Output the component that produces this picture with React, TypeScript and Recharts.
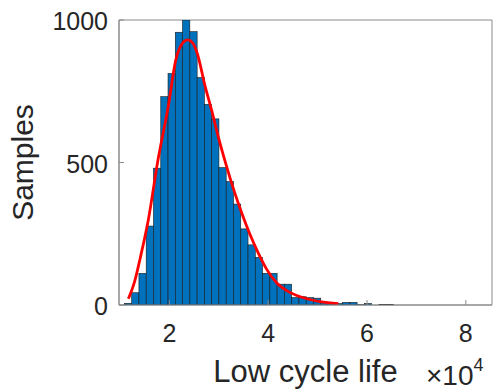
import { ComposedChart, Bar, Line, XAxis, YAxis, Label, ReferenceArea } from 'recharts';

// histogram, x in units of 1e4 cycles
const binCenters = [
  1.163, 1.31, 1.457, 1.604, 1.752, 1.899, 2.046, 2.193, 2.34, 2.488,
  2.635, 2.782, 2.929, 3.076, 3.224, 3.371, 3.518, 3.665, 3.812, 3.96,
  4.107, 4.254, 4.401, 4.548, 4.696, 4.843, 4.99, 5.137, 5.284, 5.432,
  5.579, 5.726, 5.873, 6.02, 6.168, 6.315, 6.462,
];
const binCounts = [
  6, 43, 111, 277, 480, 731, 812, 957, 1000, 959,
  798, 704, 653, 482, 433, 354, 267, 211, 167, 111,
  111, 73, 73, 26, 29, 26, 24, 10, 6, 5,
  9, 9, 1, 5, 0, 2, 2,
];
const binWidth = 0.1472;

// red fit curve
const fitX = [
  1.17, 1.3, 1.41, 1.575, 1.76, 1.98, 2.13, 2.25, 2.37, 2.47,
  2.56, 2.72, 2.86, 2.99, 3.16, 3.33, 3.47, 3.63, 3.8, 3.97,
  4.17, 4.41, 4.65, 5.05, 5.42,
];
const fitY = [
  22, 85, 165, 300, 500, 700, 860, 915, 930, 920,
  885, 770, 680, 590, 485, 390, 320, 248, 182, 125,
  78, 47, 29, 12, 5,
];

const xTicks = [2, 4, 6, 8];
const yTicks = [0, 500, 1000];
const xDomain = [0.98, 8.53];
const yDomain = [0, 1000];

const histData = binCenters.map((x, i) => ({ x, count: binCounts[i] }));
const fitData = fitX.map((x, i) => ({ x, fit: fitY[i] }));

const AXIS = '#8a8a8a';
const TEXT = '#262626';
const FONT = '"Liberation Sans", Arial, Helvetica, sans-serif';

const CHART_W = 493;
const PLOT_LEFT = 119;
const PLOT_RIGHT = 1;
// pixel width of one bin, from the x scale
const binPx = (binWidth / (xDomain[1] - xDomain[0])) * (CHART_W - PLOT_LEFT - PLOT_RIGHT);

const HistBar = ({ x, y, width, height }: any) => {
  if (!height || height <= 0) return null;
  const cx = x + width / 2;
  return (
    <rect
      x={cx - binPx / 2}
      y={y}
      width={binPx}
      height={height}
      fill="#0072BD"
      stroke="#1a1a1a"
      strokeWidth={0.6}
    />
  );
};

const BottomTick = ({ x, y, payload }: any) => (
  <g>
    <line x1={x} y1={y} x2={x} y2={y - 5} stroke={AXIS} />
    <text x={x} y={y + 37} textAnchor="middle" fontSize={25} fill={TEXT} fontFamily={FONT}>
      {payload.value}
    </text>
  </g>
);

const TopTick = ({ x, y }: any) => <line x1={x} y1={y} x2={x} y2={y + 5} stroke={AXIS} />;

const LeftTick = ({ x, y, payload }: any) => (
  <g>
    <line x1={x} y1={y} x2={x + 5} y2={y} stroke={AXIS} />
    <text x={x - 11} y={y + 10} textAnchor="end" fontSize={25} fill={TEXT} fontFamily={FONT}>
      {payload.value}
    </text>
  </g>
);

const RightTick = ({ x, y }: any) => <line x1={x} y1={y} x2={x - 5} y2={y} stroke={AXIS} />;

const XLabel = ({ viewBox }: any) => {
  const { x, y, width } = viewBox;
  return (
    <g fontFamily={FONT} fill={TEXT}>
      <text x={x + width / 2} y={y + 77} textAnchor="middle" fontSize={31}>
        Low cycle life
      </text>
      <text x={x + width - 66} y={y + 80} fontSize={28}>
        ×10
        <tspan dy={-14} fontSize={18}>4</tspan>
      </text>
    </g>
  );
};

const YLabel = ({ viewBox }: any) => {
  const cx = viewBox.x + 33;
  const cy = viewBox.y + viewBox.height / 2;
  return (
    <text
      x={cx}
      y={cy}
      transform={`rotate(-90 ${cx} ${cy})`}
      textAnchor="middle"
      fontSize={30}
      fill={TEXT}
      fontFamily={FONT}
    >
      Samples
    </text>
  );
};

export default function App() {
  return (
    <div style={{ position: 'absolute', left: 0, top: 0, background: '#fff' }}>
      <ComposedChart
        width={CHART_W}
        height={391}
        data={histData}
        margin={{ top: 20, right: PLOT_RIGHT, left: 0, bottom: 0 }}
      >
        <XAxis
          dataKey="x"
          type="number"
          domain={xDomain}
          allowDataOverflow
          ticks={xTicks}
          interval={0}
          height={86}
          tickSize={0}
          tickMargin={0}
          tickLine={false}
          stroke={AXIS}
          tick={<BottomTick />}
        >
          <Label content={<XLabel />} />
        </XAxis>
        <XAxis
          xAxisId="top"
          orientation="top"
          dataKey="x"
          type="number"
          domain={xDomain}
          allowDataOverflow
          ticks={xTicks}
          interval={0}
          height={0}
          tickSize={0}
          tickMargin={0}
          tickLine={false}
          stroke={AXIS}
          tick={<TopTick />}
        />
        <YAxis
          type="number"
          domain={yDomain}
          allowDataOverflow
          ticks={yTicks}
          interval={0}
          width={PLOT_LEFT}
          tickSize={0}
          tickMargin={0}
          tickLine={false}
          stroke={AXIS}
          tick={<LeftTick />}
        >
          <Label content={<YLabel />} />
        </YAxis>
        <YAxis
          yAxisId="right"
          orientation="right"
          type="number"
          domain={yDomain}
          allowDataOverflow
          ticks={yTicks}
          interval={0}
          width={0}
          tickSize={0}
          tickMargin={0}
          tickLine={false}
          stroke={AXIS}
          tick={<RightTick />}
        />
        <Bar dataKey="count" shape={<HistBar />} isAnimationActive={false} />
        <Line
          data={fitData}
          dataKey="fit"
          type="monotone"
          stroke="#FF0000"
          strokeWidth={2.8}
          dot={false}
          activeDot={false}
          isAnimationActive={false}
        />
        {/* axes box */}
        <ReferenceArea
          x1={xDomain[0]}
          x2={xDomain[1]}
          y1={yDomain[0]}
          y2={yDomain[1]}
          fill="none"
          fillOpacity={0}
          stroke={AXIS}
          strokeWidth={1}
        />
      </ComposedChart>
    </div>
  );
}
